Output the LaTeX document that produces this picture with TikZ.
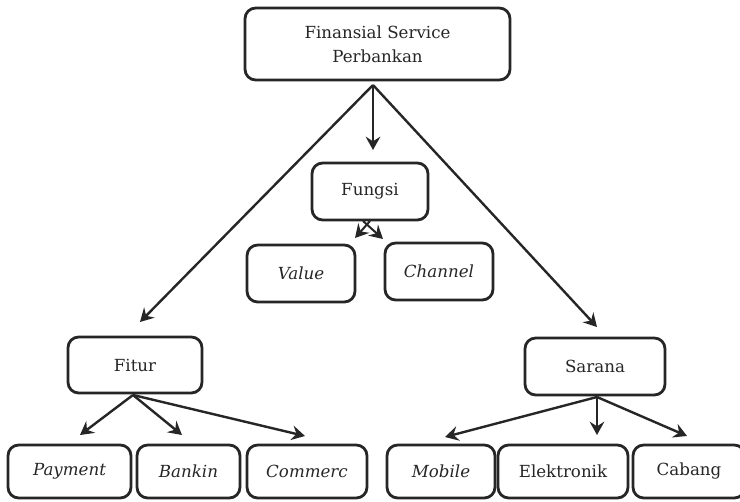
\documentclass[tikz,border=0pt]{standalone}
\usepackage{fontspec}
\setmainfont{DejaVu Serif}
\usetikzlibrary{arrows.meta}
\begin{document}
\begin{tikzpicture}[x=0.75pt,y=-0.75pt,
  box/.style={draw=black!85, line width=2.1pt, rounded corners=8pt, fill=white,
    align=center, inner sep=0pt, font=\fontsize{12.5}{18}\selectfont, text=black!85},
  link/.style={draw=black!85, line width=1.8pt,
    -{Stealth[length=10pt,width=11pt,inset=3.5pt]}}]
\useasboundingbox (0,0) rectangle (740,501);
\fill[white] (0,0) rectangle (740,501);

% boxes
\node[box, minimum width=265*0.75pt, minimum height=72*0.75pt] (top) at (377.5,44) {Finansial Service\\Perbankan};
\node[box, minimum width=116*0.75pt, minimum height=57*0.75pt] (fungsi) at (370,191.5) {Fungsi};
\node[box, minimum width=108*0.75pt, minimum height=57*0.75pt] (value) at (301,273.5) {\itshape Value};
\node[box, minimum width=108*0.75pt, minimum height=57*0.75pt] (channel) at (439,271.5) {\itshape Channel};
\node[box, minimum width=134*0.75pt, minimum height=56*0.75pt] (fitur) at (135,365) {Fitur};
\node[box, minimum width=140*0.75pt, minimum height=57*0.75pt] (sarana) at (595,366.5) {Sarana};
\node[box, minimum width=123*0.75pt, minimum height=53*0.75pt] (payment) at (69.5,471.5) {\itshape Payment};
\node[box, minimum width=103*0.75pt, minimum height=53*0.75pt] (bankin) at (188.5,471.5) {\itshape Bankin};
\node[box, minimum width=120*0.75pt, minimum height=53*0.75pt] (commerc) at (307,471.5) {\itshape Commerc};
\node[box, minimum width=108*0.75pt, minimum height=53*0.75pt] (mobile) at (441,471.5) {\itshape Mobile};
\node[box, minimum width=130*0.75pt, minimum height=53*0.75pt] (elektronik) at (563,471.5) {Elektronik};
\node[box, minimum width=112*0.75pt, minimum height=53*0.75pt] (cabang) at (689,471.5) {Cabang};

% branching points and arrow ends
\coordinate (apex) at (373,85);
\coordinate (fa) at (370,221);
\coordinate (fb) at (363,221);
\coordinate (fo) at (133,395);
\coordinate (so) at (597,397);

\draw[link] (apex) -- (373,150);
\draw[link] (apex) -- (140,322);
\draw[link] (apex) -- (597,327);

\draw[link, line width=1.5pt] (fa) -- (355,238);
\draw[link, line width=1.5pt] (fb) -- (383,239);

\draw[link] (fo) -- (80,435);
\draw[link] (fo) -- (182,435);
\draw[link] (fo) -- (305,436);

\draw[link] (so) -- (445,437);
\draw[link] (so) -- (597,435);
\draw[link] (so) -- (687,436);
\end{tikzpicture}
\end{document}
